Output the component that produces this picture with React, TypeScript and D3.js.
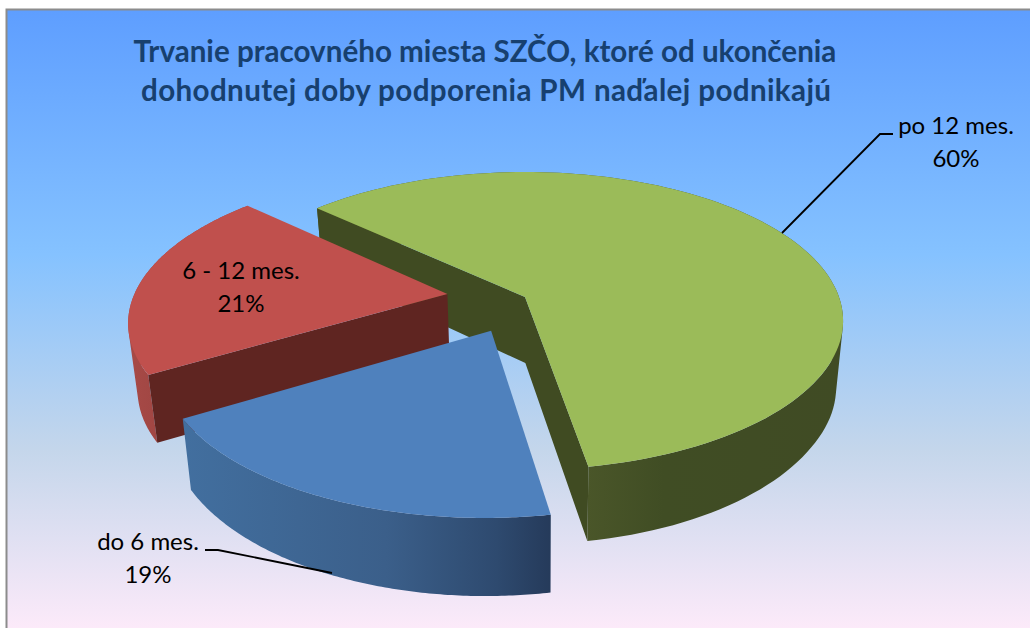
import React from 'react';
import * as d3 from 'd3';

const categories = ['do 6 mes.', '6 - 12 mes.', 'po 12 mes.'];
const shares = [19.1, 20.5, 60.4];
const titleLines = [
  'Trvanie pracovného miesta SZČO, ktoré od ukončenia',
  'dohodnutej doby podporenia PM naďalej podnikajú',
];

const topColors = ['#4f81bd', '#c0504d', '#9bbb59'];
const cutColors = ['#3a5f8c', '#5f2521', '#404b22'];

const W = 1030;
const H = 628;
const CX = 525, CY = 297, RX = 314, RY = 145, K = 0.16;
const START = (170.2 * Math.PI) / 180;
// Explosion of each slice, in plane units of the pie radius
const offsets: [number, number][] = [[-0.104, 0.225], [-0.248, -0.021], [0, 0]];

const scaleBottomX = d3.scaleLinear().domain([0, 1000]).range([540 - 540 * 0.977, 540 + 460 * 0.977]);
const scaleBottomY = d3.scaleLinear().domain([209, 297, 376, 516]).range([270, 363, 444, 594]);

type P = [number, number];
const project = (u: number, v: number): P => {
  const w = 1 - K * v;
  return [CX + (RX * u) / w, CY + (RY * v) / w];
};
const drop = ([x, y]: P): P => [scaleBottomX(x), scaleBottomY(y)];

const pie = d3.pie<number>().sort(null).startAngle(START).endAngle(START + Math.PI * 2);
const arcs = pie(shares);
const line = d3.line().curve(d3.curveLinear);

export default function App() {
  const slices = arcs.map((a, i) => {
    const [ou, ov] = offsets[i];
    const apex = project(ou, ov);
    const pts: P[] = d3.range(0, 121).map((s) => {
      const t = a.startAngle + ((a.endAngle - a.startAngle) * s) / 120;
      return project(ou + Math.sin(t), ov - Math.cos(t));
    });
    const top = line([apex, ...pts])! + 'Z';
    // the wall is a union of quads, so that its silhouette follows the tangent
    const outer = d3.range(0, 120).map((s) => {
      const quad: P[] = [pts[s], pts[s + 1], drop(pts[s + 1]), drop(pts[s])];
      if (d3.polygonArea(quad) < 0) quad.reverse();
      return line(quad)! + 'Z';
    }).join('');
    const quadA: P[] = [apex, pts[0], drop(pts[0]), drop(apex)];
    const quadB: P[] = [apex, pts[120], drop(pts[120]), drop(apex)];
    // only the cut faces turned towards the viewer are painted
    const cuts = [
      d3.polygonArea(quadA) > 0 ? line(quadA)! + 'Z' : '',
      d3.polygonArea(quadB) < 0 ? line(quadB)! + 'Z' : '',
    ].join('');
    return { top, outer, cuts, i };
  });
  const order = [2, 1, 0];

  return (
    <svg width={W} height={H} viewBox={`0 0 ${W} ${H}`} style={{ position: 'absolute', left: 0, top: 0 }}>
      <defs>
        <linearGradient id="bg" x1="0" y1="0" x2="0" y2="1">
          <stop offset="0" stopColor="#5e9eff" />
          <stop offset="0.39" stopColor="#85c2ff" />
          <stop offset="0.7" stopColor="#c4d6eb" />
          <stop offset="1" stopColor="#ffebfa" />
        </linearGradient>
        <linearGradient id="wall0" gradientUnits="userSpaceOnUse" x1="183" y1="0" x2="552" y2="0">
          <stop offset="0" stopColor="#426f9f" />
          <stop offset="0.55" stopColor="#3b5f8a" />
          <stop offset="0.85" stopColor="#2e4a6f" />
          <stop offset="1" stopColor="#253a5a" />
        </linearGradient>
        <linearGradient id="wall1" gradientUnits="userSpaceOnUse" x1="127" y1="0" x2="160" y2="0">
          <stop offset="0" stopColor="#a84a47" />
          <stop offset="1" stopColor="#a04643" />
        </linearGradient>
        <linearGradient id="wall2" gradientUnits="userSpaceOnUse" x1="587" y1="0" x2="843" y2="0">
          <stop offset="0" stopColor="#4a5629" />
          <stop offset="0.3" stopColor="#404d24" />
          <stop offset="1" stopColor="#404b24" />
        </linearGradient>
      </defs>
      <rect x={6.5} y={9.5} width={W} height={H} fill="url(#bg)" stroke="#8c8c8c" strokeWidth={2} />
      {order.map((idx) => {
        const s = slices[idx];
        return (
          <g key={categories[idx]}>
            <path d={s.outer} fill={`url(#wall${idx})`} />
            <path d={s.cuts} fill={cutColors[idx]} />
            <path d={s.top} fill={topColors[idx]} />
          </g>
        );
      })}
      <g fontFamily="Lato, sans-serif" fontWeight={700} fontSize={29.6} fill="#17406f" textAnchor="middle">
        <text x={485} y={62}>{titleLines[0]}</text>
        <text x={486} y={101} textLength={690} lengthAdjust="spacing">{titleLines[1]}</text>
      </g>
      <g fill="none" stroke="#000" strokeWidth={1.8}>
        <path d={line([[782, 233], [880, 134], [893, 134]] as P[])!} />
        <path d={line([[332, 573], [218, 550], [205, 550]] as P[])!} />
      </g>
      <g fontFamily="Lato, sans-serif" fontSize={24} fill="#000" textAnchor="middle">
        <text x={148} y={550}>{categories[0]}</text>
        <text x={148} y={583}>{Math.round(shares[0])}%</text>
        <text x={241} y={279}>{categories[1]}</text>
        <text x={241} y={312}>{Math.round(shares[1])}%</text>
        <text x={956} y={134}>{categories[2]}</text>
        <text x={956} y={167}>{Math.round(shares[2])}%</text>
      </g>
    </svg>
  );
}
